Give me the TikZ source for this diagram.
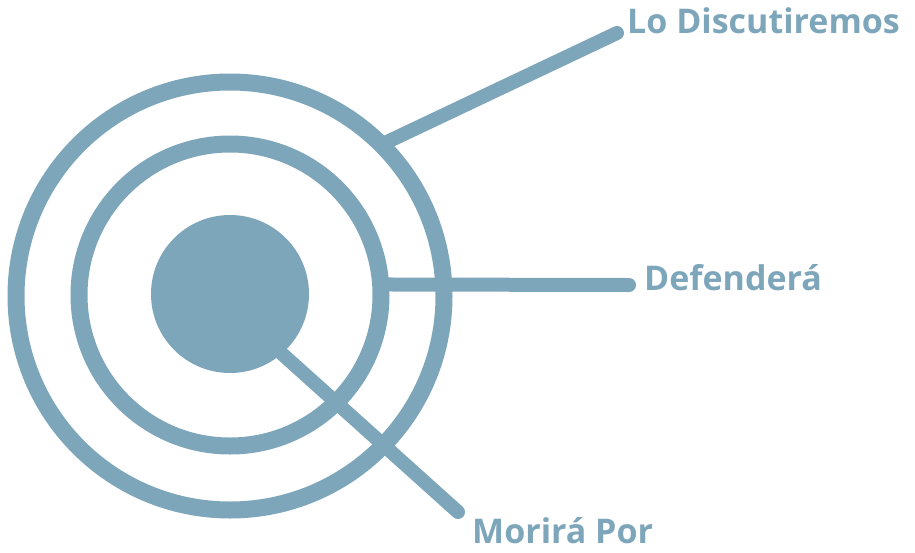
\documentclass[tikz,border=0pt]{standalone}
\usepackage{fontspec}
\setmainfont{Open Sans}
\definecolor{ring}{HTML}{7EA6BB}
\begin{document}
\begin{tikzpicture}[x=1pt,y=-1pt,
  ringst/.style={circle,draw=ring,line width=17pt,inner sep=0pt,outer sep=0pt},
  corest/.style={circle,fill=ring,inner sep=0pt,outer sep=0pt},
  conn/.style={draw=ring,line width=14pt,line cap=round},
  lab/.style={anchor=base west,inner sep=0pt,text=ring,font=\fontsize{34}{40}\selectfont\bfseries}]
\useasboundingbox (0,0) rectangle (915,552);
\node[ringst,minimum size=428pt] (outer) at (230,296) {};
\node[ringst,minimum size=302pt] (middle) at (230,295) {};
\node[corest,minimum size=158pt] (core) at (230,294) {};
\coordinate (e1) at (617,33);
\coordinate (e2) at (629,285);
\coordinate (e3) at (458,512);
\node[lab] (l1) at (627,33) {Lo Discutiremos};
\node[lab] (l2) at (644,290) {Defenderá};
\node[lab] (l3) at (472,543) {Morirá Por};
\draw[conn] (outer.45) -- (e1);
\draw[conn] (middle.4) -- (e2);
\draw[conn] (core.-49) -- (e3);
\end{tikzpicture}
\end{document}
